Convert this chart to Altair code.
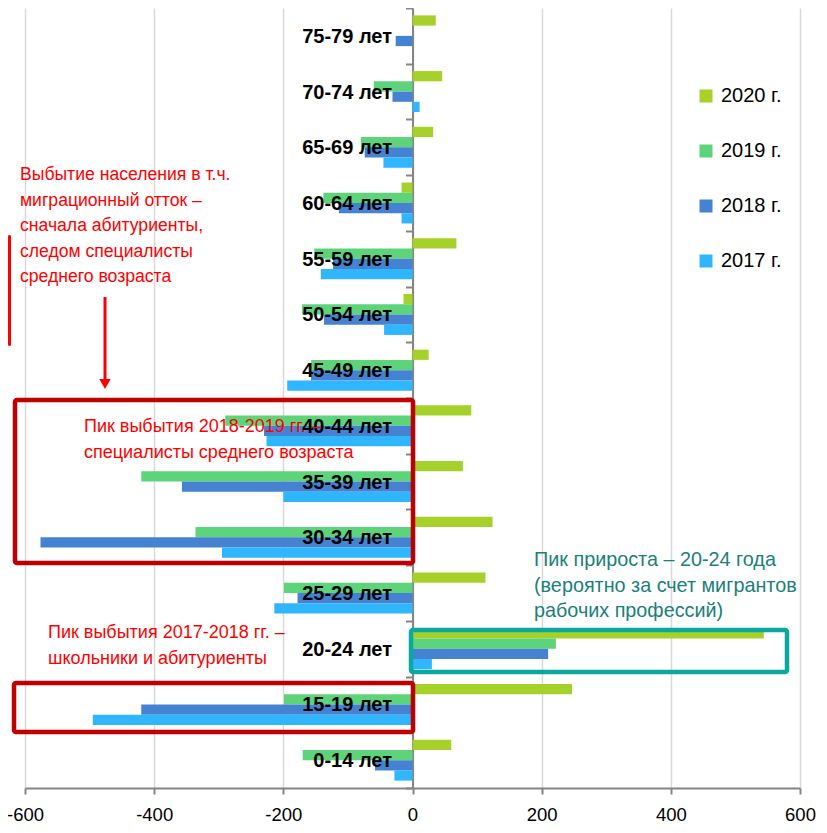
import altair as alt
import pandas as pd

# ---- data ----
ages = ["75-79 лет", "70-74 лет", "65-69 лет", "60-64 лет", "55-59 лет", "50-54 лет",
        "45-49 лет", "40-44 лет", "35-39 лет", "30-34 лет", "25-29 лет", "20-24 лет",
        "15-19 лет", "0-14 лет"]
years = ["2020 г.", "2019 г.", "2018 г.", "2017 г."]
colors = ["#a6d12a", "#5dd37a", "#4583d2", "#30b6ff"]
v2020 = [36, 46, 32, -17, 68, -14, 25, 91, 78, 124, 113, 544, 247, 60]
v2019 = [0, -60, -80, -138, -152, -171, -157, -290, -420, -336, -199, 222, -199, -170]
v2018 = [-26, -31, -74, -114, -123, -137, -157, -230, -357, -576, -178, 210, -420, -58]
v2017 = [0, 11, -45, -17, -142, -44, -194, -226, -200, -295, -214, 30, -495, -28]
x_ticks = [-600, -400, -200, 0, 200, 400, 600]

rows = []
for yr, vals in zip(years, [v2020, v2019, v2018, v2017]):
    for a, v in zip(ages, vals):
        rows.append({"age": a, "year": yr, "value": v})
df = pd.DataFrame(rows)

FONT = "Liberation Sans, Arial, sans-serif"
RED = "#ff0000"
DARKRED = "#c00000"
TEAL = "#0aa89e"
TEALTXT = "#1a8079"

y_enc = alt.Y("age:N", sort=ages, scale=alt.Scale(paddingInner=0, paddingOuter=0),
              axis=alt.Axis(title=None, labels=False, domain=True, domainColor="#868686",
                            domainWidth=2, ticks=True, tickBand="extent", tickColor="#868686",
                            tickWidth=2, tickSize=7, grid=False, offset=-387.5))

bars = alt.Chart(df).mark_bar().encode(
    x=alt.X("value:Q", scale=alt.Scale(domain=[-600, 600], nice=False),
            axis=alt.Axis(values=x_ticks, title=None, grid=True, gridColor="#d9d9d9",
                          gridWidth=1.5, domainColor="#868686", domainWidth=2,
                          tickColor="#868686", tickWidth=2, tickSize=6,
                          labelFont=FONT, labelFontSize=18.5, labelColor="#000000",
                          labelFlush=False, labelPadding=11,
                          labelExpr="'' + datum.value")),
    y=y_enc,
    yOffset=alt.YOffset("year:N", sort=years,
                        scale=alt.Scale(paddingInner=0, paddingOuter=0.72)),
    color=alt.Color("year:N", sort=years, scale=alt.Scale(domain=years, range=colors),
                    legend=alt.Legend(title=None, orient="none", legendX=671, legendY=78,
                                      symbolType="square", symbolSize=169,
                                      symbolStrokeWidth=0, labelFont=FONT,
                                      labelFontSize=20, labelColor="#000000",
                                      labelOffset=5, rowPadding=35)),
)

age_df = pd.DataFrame({"age": ages})
labels = alt.Chart(age_df).mark_text(
    align="right", baseline="middle", font=FONT, fontSize=20, fontWeight="bold",
    color="#000000", dy=1
).encode(y=alt.Y("age:N", sort=ages), x=alt.value(367), text="age:N")

one = pd.DataFrame({"k": [0]})


def box(x1, x2, y1, y2, color, sw=4.5):
    return alt.Chart(one).mark_rect(filled=False, stroke=color, strokeWidth=sw,
                                    cornerRadius=2).encode(
        x=alt.value(x1), x2=alt.value(x2), y=alt.value(y1), y2=alt.value(y2))


def note(x, y, lines, color, size=18):
    return alt.Chart(one).mark_text(text=lines, align="left", baseline="alphabetic",
                                    font=FONT, fontSize=size, color=color,
                                    lineHeight=25.5).encode(
        x=alt.value(x), y=alt.value(y))


box1 = box(-10, 388, 392, 555, DARKRED)
box2 = box(-11, 388, 675, 724, DARKRED)
box3 = box(386, 762, 622, 664, TEAL)

side = alt.Chart(one).mark_rect(color=RED, cornerRadius=2).encode(
    x=alt.value(-17), x2=alt.value(-14), y=alt.value(227), y2=alt.value(338))

arrow_line = alt.Chart(one).mark_rule(color=RED, strokeWidth=3).encode(
    x=alt.value(80), y=alt.value(289), y2=alt.value(372))
arrow_head = alt.Chart(one).mark_point(shape="triangle-down", filled=True, color=RED,
                                       size=130, opacity=1).encode(
    x=alt.value(80), y=alt.value(376))

n1 = note(-5, 172, ["Выбытие населения в т.ч.", "миграционный отток –",
                    "сначала абитуриенты,", "следом специалисты", "среднего возраста"],
          RED, 17.6)
n2 = note(59, 424, ["Пик выбытия 2018-2019 гг. –", "специалисты среднего возраста"], RED)
n3 = note(23, 630, ["Пик выбытия 2017-2018 гг. –", "школьники и абитуриенты"], RED)
n4 = note(509, 558, ["Пик прироста – 20-24 года", "(вероятно за счет мигрантов",
                     "рабочих профессий)"], TEALTXT, 19.8)

chart = alt.layer(bars, labels, box1, box2, box3, side, arrow_line, arrow_head,
                  n1, n2, n3, n4).properties(
    width=775, height=780,
    padding={"left": 17, "top": 0, "right": 19, "bottom": 37},
    autosize=alt.AutoSizeParams(type="none"),
).configure_view(strokeWidth=0)

chart.save("out.html", embed_options={"renderer": "svg", "actions": False})
